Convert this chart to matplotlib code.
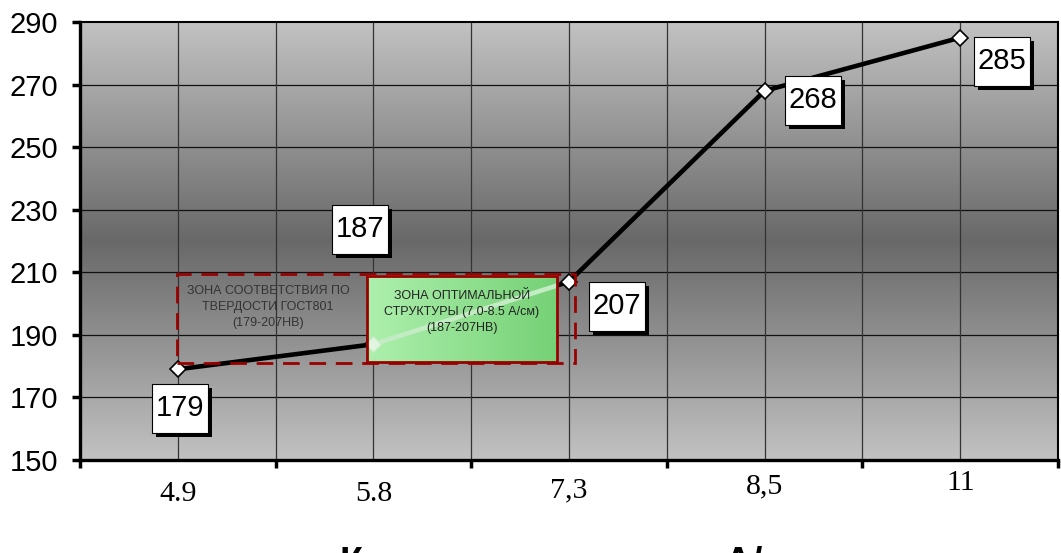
import numpy as np
import matplotlib
matplotlib.use('Agg')
import matplotlib.pyplot as plt
from matplotlib.patches import Rectangle
from matplotlib.path import Path
from matplotlib import patheffects

# Hardness vs coercive force
categories = ['4.9', '5.8', '7,3', '8,5', '11']
hardness = [179, 187, 207, 268, 285]

# label box offsets from each point (category units, HB units)
label_dx = [0.01, -0.07, 0.245, 0.247, 0.214]
label_dy = [-12.4, 36.8, -7.8, -3.0, -7.5]
# x label baseline drop below the axis, points
xlabel_drop = [29.5, 29.5, 26.6, 23.8, 21.6]

# zone of GOST hardness and zone of optimal structure
gost_zone = (-0.005, 2.03, 181.0, 209.5)
opt_zone = (0.967, 1.939, 181.3, 208.8)

plt.rcParams['font.family'] = ['Liberation Sans', 'DejaVu Sans']


def tall_box(x0, y0, width, height, mutation_size):
    # rectangle with small side padding and larger top/bottom padding
    px = 0.13 * mutation_size
    py = 0.36 * mutation_size
    x0, y0 = x0 - px, y0 - py
    x1, y1 = x0 + width + 2 * px, y0 + height + 2 * py
    return Path([(x0, y0), (x1, y0), (x1, y1), (x0, y1), (x0, y0)],
                closed=True)


fig = plt.figure(figsize=(10.61, 5.53), dpi=100)
ax = fig.add_axes([80 / 1061, 93 / 553, 978 / 1061, 438 / 553])

x = np.arange(len(categories))
ax.set_xlim(-0.5, len(categories) - 0.5)
ax.set_ylim(150, 290)

# grey background, darker in the middle
t = np.linspace(0, 1, 256)
shade = 0.41 + 0.35 * np.abs(t - 0.5) * 2
bg = np.dstack([shade, shade, shade]).reshape(256, 1, 3)
ax.imshow(bg, extent=(-0.5, len(categories) - 0.5, 150, 290), aspect='auto',
          zorder=0, origin='lower', interpolation='bilinear')

# grid
ax.set_yticks(range(150, 291, 20))
ax.set_xticks(np.arange(-0.5, len(categories), 1))
ax.set_xticklabels([])
for v in range(170, 290, 20):
    ax.axhline(v, color='#111111', lw=0.9, zorder=1)
for g in np.arange(0, len(categories) - 0.5, 0.5):
    ax.axvline(g, color='#333333', lw=0.9, zorder=1)

ax.tick_params(axis='y', direction='out', length=6, width=2.5, labelsize=21, pad=10)
ax.tick_params(axis='x', direction='out', length=6, width=2.5)
for side in ['left', 'bottom']:
    ax.spines[side].set_linewidth(2.4)
for side in ['top', 'right']:
    ax.spines[side].set_linewidth(1.5)

for i, lab in enumerate(categories):
    ax.annotate(lab, xy=(i, 0), xycoords=('data', 'axes fraction'),
                xytext=(0, -xlabel_drop[i]), textcoords='offset points',
                ha='center', va='baseline', fontsize=21.5,
                family=['Liberation Serif', 'DejaVu Serif'])

# main curve
ax.plot(x, hardness, color='black', lw=3.3, marker='D', markersize=8,
        markerfacecolor='white', markeredgecolor='black', markeredgewidth=1.2,
        zorder=3, clip_on=False)

# GOST zone, dashed
gx0, gx1, gy0, gy1 = gost_zone
ax.add_patch(Rectangle((gx0, gy0), gx1 - gx0, gy1 - gy0, fill=False,
                       edgecolor='#990000', lw=2, linestyle=(0, (6, 3.5)), zorder=4))
ax.text((gx0 + opt_zone[0]) / 2 - 0.02, 198.9,
        'ЗОНА СООТВЕТСТВИЯ ПО\nТВЕРДОСТИ ГОСТ801\n(179-207НВ)',
        ha='center', va='center', fontsize=9, color='#333333', linespacing=1.45, zorder=6)

# optimal structure zone, green gradient
ox0, ox1, oy0, oy1 = opt_zone
u = np.linspace(0, 1, 128)
grad = np.zeros((1, 128, 3))
grad[0, :, 0] = 0.68 - 0.22 * u
grad[0, :, 1] = 0.94 - 0.12 * u
grad[0, :, 2] = 0.68 - 0.22 * u
ax.imshow(grad, extent=(ox0, ox1, oy0, oy1), aspect='auto', zorder=4.5,
          interpolation='bilinear')
box = Rectangle((ox0, oy0), ox1 - ox0, oy1 - oy0, fill=False,
                edgecolor='#990000', lw=2, zorder=4.7)
ax.add_patch(box)
pale, = ax.plot(x, hardness, color='#c4ecc4', lw=3.3, marker='D', markersize=8,
                markerfacecolor='#e0f6e0', markeredgecolor='#c4ecc4', zorder=4.6)
pale.set_clip_path(box)
ax.text(1.453, 197.3, 'ЗОНА ОПТИМАЛЬНОЙ\nСТРУКТУРЫ (7.0-8.5 А/см)\n(187-207НВ)',
        ha='center', va='center', fontsize=9, color='#222222', linespacing=1.45, zorder=6)

# value labels with shadow
for i, v in enumerate(hardness):
    txt = ax.text(i + label_dx[i], v + label_dy[i], str(v), ha='center', va='center',
                  fontsize=21, zorder=8,
                  bbox=dict(boxstyle=tall_box, fc='white', ec='black', lw=0.8))
    txt.get_bbox_patch().set_path_effects([
        patheffects.SimplePatchShadow(offset=(3, -3), shadow_rgbFace='black', alpha=1),
        patheffects.Normal()])

# axis title, mostly below the canvas edge
fig.text(575 / 1061, -21 / 553, 'Коэрцитивная сила, А/см', ha='center', va='baseline',
         fontsize=27, fontweight='bold')

fig.savefig('out.png', dpi=100)
